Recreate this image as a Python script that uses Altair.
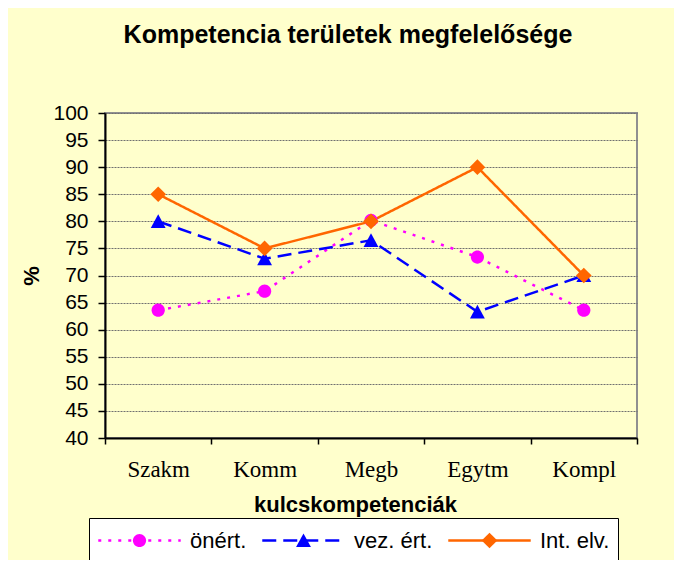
import altair as alt
import pandas as pd

categories = ["Szakm", "Komm", "Megb", "Egytm", "Kompl"]
series_names = ["önért.", "vez. ért.", "Int. elv."]
onert = [63.6, 67.1, 80.2, 73.4, 63.6]
vez_ert = [80.0, 73.1, 76.5, 63.3, 70.0]
int_elv = [85.0, 75.0, 80.0, 90.0, 70.0]
y_ticks = list(range(40, 101, 5))

colors = ["#FF00FF", "#0000FF", "#FF6600"]
dashes = [[3, 7], [14, 7], [1, 0]]
widths = [2.5, 2.5, 2]

# marker paths in unit symbol space (symbol size 6800 -> ~82px wide)
circ = "M-0.16,0A0.16,0.16 0 1,0 0.16,0A0.16,0.16 0 1,0 -0.16,0Z"
tri = "M0,-0.17L0.18,0.16L-0.18,0.16Z"
dia = "M0,-0.19L0.19,0L0,0.19L-0.19,0Z"
markers = [circ, tri, dia]
SYM = 6800

mk_names = [f"{i}|{n}" for i, n in enumerate(series_names)]

rows = []
for name, mk, vals in zip(series_names, mk_names, [onert, vez_ert, int_elv]):
    for c, v in zip(categories, vals):
        rows.append({"cat": c, "series": name, "mk": mk, "value": v})
df = pd.DataFrame(rows)

x_enc = alt.X(
    "cat:N",
    sort=categories,
    scale=alt.Scale(type="band", paddingInner=0, paddingOuter=0),
    axis=alt.Axis(
        title="kulcskompetenciák",
        labelAngle=0,
        labelFont="Liberation Serif",
        labelFontSize=23,
        labelColor="black",
        labelPadding=14,
        tickBand="extent",
        tickSize=6,
        tickColor="black",
        tickWidth=1.5,
        domainColor="black",
        domainWidth=2,
        grid=False,
        titleFont="Liberation Sans",
        titleFontSize=22,
        titleFontWeight="bold",
        titleColor="black",
        titlePadding=13,
        titleX=250,
    ),
)
y_enc = alt.Y(
    "value:Q",
    scale=alt.Scale(domain=[40, 100], nice=False, zero=False),
    axis=alt.Axis(
        title="%",
        values=y_ticks,
        labelFont="Liberation Sans",
        labelFontSize=21,
        labelColor="black",
        labelPadding=10,
        tickSize=7,
        tickColor="black",
        tickWidth=1.5,
        domainColor="black",
        domainWidth=2,
        gridColor="#707070",
        gridDash=[2, 1],
        gridWidth=1,
        titleFont="Liberation Sans",
        titleFontSize=22,
        titleFontWeight="bold",
        titleColor="black",
        titlePadding=9,
    ),
)

common_legend = dict(
    title=None,
    orient="none",
    legendX=-16,
    legendY=405,
    direction="horizontal",
    padding=8,
    symbolSize=SYM,
    symbolStrokeWidth=2.5,
    clipHeight=29,
    labelFont="Liberation Sans",
    labelFontSize=22,
    labelOffset=8,
    columnPadding=14,
)

lines = alt.Chart(df).mark_line().encode(
    x=x_enc,
    y=y_enc,
    color=alt.Color(
        "series:N",
        scale=alt.Scale(domain=series_names, range=colors),
        legend=alt.Legend(
            fillColor="white",
            strokeColor="black",
            labelColor="black",
            zindex=0,
            **common_legend,
        ),
    ),
    strokeDash=alt.StrokeDash(
        "series:N", scale=alt.Scale(domain=series_names, range=dashes)
    ),
    strokeWidth=alt.StrokeWidth(
        "series:N", scale=alt.Scale(domain=series_names, range=widths)
    ),
)

mk_legend = alt.Legend(
    labelOpacity=0,
    labelExpr="split(datum.label, '|')[1]",
    zindex=1,
    **common_legend,
)

points = alt.Chart(df).mark_point(filled=True, opacity=1, size=SYM).encode(
    x=x_enc,
    y=y_enc,
    fill=alt.Fill("mk:N", scale=alt.Scale(domain=mk_names, range=colors), legend=mk_legend),
    shape=alt.Shape("mk:N", scale=alt.Scale(domain=mk_names, range=markers), legend=mk_legend),
)

chart = (
    alt.layer(lines, points)
    .properties(
        width=532,
        height=325,
        background="#FFFFCC",
        padding={"left": 97, "top": 105, "right": 37, "bottom": 122},
        autosize=alt.AutoSizeParams(type="none"),
        title=alt.TitleParams(
            "Kompetencia területek megfelelősége",
            font="Liberation Sans",
            fontSize=25,
            fontWeight="bold",
            color="black",
            anchor="middle",
            dx=-23,
            offset=54,
        ),
    )
    .configure_view(fill="#FFFFCC", stroke="#909090", strokeWidth=2)
)

chart.save("out.html", embed_options={"renderer": "svg", "actions": False})
